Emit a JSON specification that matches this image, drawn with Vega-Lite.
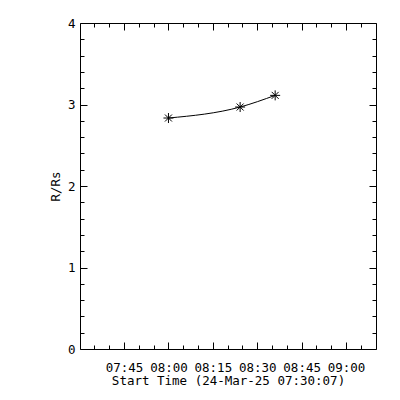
{
"$schema": "https://vega.github.io/schema/vega-lite/v6.json",
"width": 296, "height": 326,
"autosize": {"type": "none"},
"padding": {"left": 80, "top": 23, "right": 24, "bottom": 51},
"background": "white",
"config": {
  "view": {"stroke": "black", "strokeWidth": 1},
  "axis": {"domain": false, "grid": false, "labelFont": "DejaVu Sans Mono", "titleFont": "DejaVu Sans Mono", "labelColor": "black", "titleColor": "black", "tickColor": "black", "tickWidth": 1, "labelFontSize": 12.5, "titleFontSize": 12.5, "titleFontWeight": "normal", "labelOverlap": false, "labelFlush": false}
},
"data": {"values": [
  {"t": "2025-03-24T08:00:00", "r": 2.834},
  {"t": "2025-03-24T08:24:13", "r": 2.969},
  {"t": "2025-03-24T08:36:03", "r": 3.112}
]},
"layer": [
  {
    "mark": {"type": "line", "interpolate": "monotone", "color": "black", "strokeWidth": 1},
    "encoding": {
      "x": {"field": "t", "type": "temporal",
        "scale": {"domain": [{"year": 2025, "month": 3, "date": 24, "hours": 7, "minutes": 30, "seconds": 7}, {"year": 2025, "month": 3, "date": 24, "hours": 9, "minutes": 10, "seconds": 7}]},
        "axis": {"orient": "bottom", "title": "Start Time (24-Mar-25 07:30:07)", "titlePadding": -2, "labelPadding": 19,
          "values": [
            {"year": 2025, "month": 3, "date": 24, "hours": 7, "minutes": 35},
            {"year": 2025, "month": 3, "date": 24, "hours": 7, "minutes": 40},
            {"year": 2025, "month": 3, "date": 24, "hours": 7, "minutes": 45},
            {"year": 2025, "month": 3, "date": 24, "hours": 7, "minutes": 50},
            {"year": 2025, "month": 3, "date": 24, "hours": 7, "minutes": 55},
            {"year": 2025, "month": 3, "date": 24, "hours": 8, "minutes": 0},
            {"year": 2025, "month": 3, "date": 24, "hours": 8, "minutes": 5},
            {"year": 2025, "month": 3, "date": 24, "hours": 8, "minutes": 10},
            {"year": 2025, "month": 3, "date": 24, "hours": 8, "minutes": 15},
            {"year": 2025, "month": 3, "date": 24, "hours": 8, "minutes": 20},
            {"year": 2025, "month": 3, "date": 24, "hours": 8, "minutes": 25},
            {"year": 2025, "month": 3, "date": 24, "hours": 8, "minutes": 30},
            {"year": 2025, "month": 3, "date": 24, "hours": 8, "minutes": 35},
            {"year": 2025, "month": 3, "date": 24, "hours": 8, "minutes": 40},
            {"year": 2025, "month": 3, "date": 24, "hours": 8, "minutes": 45},
            {"year": 2025, "month": 3, "date": 24, "hours": 8, "minutes": 50},
            {"year": 2025, "month": 3, "date": 24, "hours": 8, "minutes": 55},
            {"year": 2025, "month": 3, "date": 24, "hours": 9, "minutes": 0},
            {"year": 2025, "month": 3, "date": 24, "hours": 9, "minutes": 5}
          ],
          "labelExpr": "minutes(datum.value) % 15 === 0 ? timeFormat(datum.value, '%H:%M') : ''",
          "tickSize": {"condition": {"test": "minutes(datum.value) % 15 === 0", "value": -7}, "value": -4}
        }
      },
      "y": {"field": "r", "type": "quantitative",
        "scale": {"domain": [0, 4], "nice": false, "zero": false},
        "axis": {"orient": "left", "title": "R/Rs", "titlePadding": 5, "labelPadding": 12,
          "values": [0, 0.2, 0.4, 0.6, 0.8, 1, 1.2, 1.4, 1.6, 1.8, 2, 2.2, 2.4, 2.6, 2.8, 3, 3.2, 3.4, 3.6, 3.8, 4],
          "labelExpr": "abs(datum.value - round(datum.value)) < 0.001 ? format(datum.value, 'd') : ''",
          "tickSize": {"condition": {"test": "abs(datum.value - round(datum.value)) < 0.001", "value": -7}, "value": -4}
        }
      }
    }
  },
  {
    "mark": {"type": "point", "shape": "M-1,0L1,0M0,-1L0,1M-0.7,-0.7L0.7,0.7M-0.7,0.7L0.7,-0.7", "size": 100, "filled": false, "color": "black", "strokeWidth": 1, "opacity": 1},
    "encoding": {
      "x": {"field": "t", "type": "temporal",
        "axis": {"orient": "top", "title": null, "labels": false,
          "values": [
            {"year": 2025, "month": 3, "date": 24, "hours": 7, "minutes": 35},
            {"year": 2025, "month": 3, "date": 24, "hours": 7, "minutes": 40},
            {"year": 2025, "month": 3, "date": 24, "hours": 7, "minutes": 45},
            {"year": 2025, "month": 3, "date": 24, "hours": 7, "minutes": 50},
            {"year": 2025, "month": 3, "date": 24, "hours": 7, "minutes": 55},
            {"year": 2025, "month": 3, "date": 24, "hours": 8, "minutes": 0},
            {"year": 2025, "month": 3, "date": 24, "hours": 8, "minutes": 5},
            {"year": 2025, "month": 3, "date": 24, "hours": 8, "minutes": 10},
            {"year": 2025, "month": 3, "date": 24, "hours": 8, "minutes": 15},
            {"year": 2025, "month": 3, "date": 24, "hours": 8, "minutes": 20},
            {"year": 2025, "month": 3, "date": 24, "hours": 8, "minutes": 25},
            {"year": 2025, "month": 3, "date": 24, "hours": 8, "minutes": 30},
            {"year": 2025, "month": 3, "date": 24, "hours": 8, "minutes": 35},
            {"year": 2025, "month": 3, "date": 24, "hours": 8, "minutes": 40},
            {"year": 2025, "month": 3, "date": 24, "hours": 8, "minutes": 45},
            {"year": 2025, "month": 3, "date": 24, "hours": 8, "minutes": 50},
            {"year": 2025, "month": 3, "date": 24, "hours": 8, "minutes": 55},
            {"year": 2025, "month": 3, "date": 24, "hours": 9, "minutes": 0},
            {"year": 2025, "month": 3, "date": 24, "hours": 9, "minutes": 5}
          ],
          "tickSize": {"condition": {"test": "minutes(datum.value) % 15 === 0", "value": -7}, "value": -4}
        }
      },
      "y": {"field": "r", "type": "quantitative",
        "axis": {"orient": "right", "title": null, "labels": false,
          "values": [0, 0.2, 0.4, 0.6, 0.8, 1, 1.2, 1.4, 1.6, 1.8, 2, 2.2, 2.4, 2.6, 2.8, 3, 3.2, 3.4, 3.6, 3.8, 4],
          "tickSize": {"condition": {"test": "abs(datum.value - round(datum.value)) < 0.001", "value": -7}, "value": -4}
        }
      }
    }
  }
],
"resolve": {"axis": {"x": "independent", "y": "independent"}}
}
